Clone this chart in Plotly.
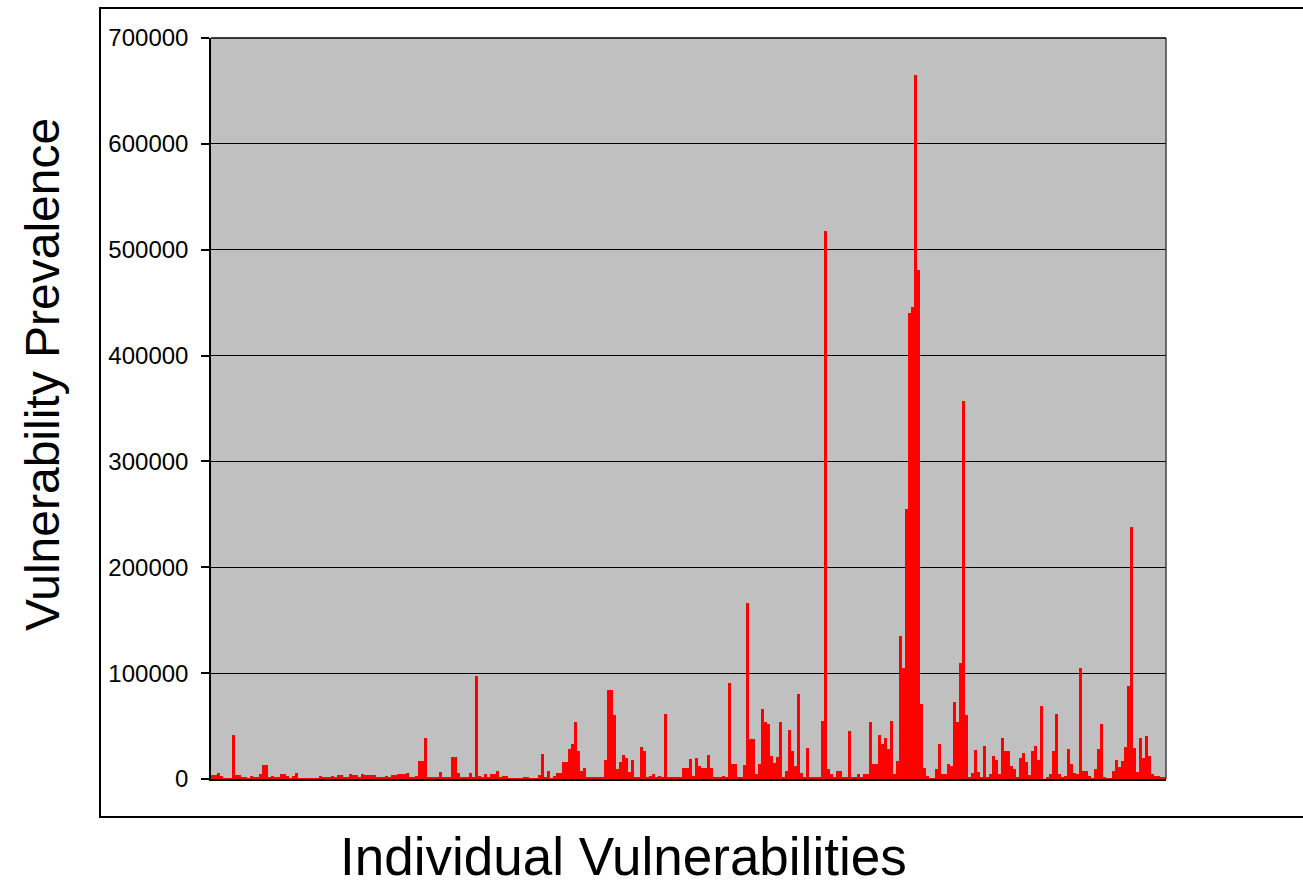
import plotly.graph_objects as go

# Prevalence values (in thousands) for each individual vulnerability, read left to right
prevalence_k = [
    3.5, 3.5, 6, 2.5, 0.5, 0.5, 0.5, 42, 3.8, 3.8,
    1.5, 1.5, 0.5, 2.5, 1, 1, 5, 13, 13, 1,
    2.5, 1, 1, 5, 5, 3, 0.5, 2.5, 6, 0.3,
    0.3, 0.3, 0.3, 0.3, 0.8, 0.8, 2.5, 1, 1, 1,
    2.5, 1, 3.8, 3.8, 1.5, 1.5, 5, 3.5, 3.5, 1,
    5, 3.8, 3.8, 3.8, 3.8, 1, 1, 1, 2.5, 1,
    3.8, 3.8, 5, 5, 5, 6, 1, 1, 2.5, 17,
    17, 39, 1, 1, 1, 1, 7, 1, 1, 1,
    21, 21, 6, 1, 1, 1, 6, 2, 97, 3,
    1, 5, 1, 5, 5, 8, 1, 2.5, 2.5, 0.5,
    0.5, 0.5, 0.5, 0.5, 1.5, 1.5, 0.3, 0.3, 0.3, 3.5,
    24, 2, 8, 0.5, 2.5, 6, 6, 16, 16, 28,
    33, 54, 26, 8, 10, 1.5, 1.5, 1.5, 1.5, 1.5,
    1.5, 18, 84, 84, 60, 9, 16, 23, 20, 7,
    18, 1, 1, 30, 26, 1, 2.5, 4.4, 1.5, 3,
    1.5, 61, 1, 1, 1, 2, 2, 10, 10, 19,
    3, 20, 12, 10, 10, 23, 10, 1, 1, 1,
    2.5, 1, 91, 14, 14, 1, 1, 13, 166, 38,
    38, 4.4, 14, 66, 54, 52, 22, 15, 21, 54,
    1, 8, 46, 26, 12, 80, 6, 1, 29, 1,
    1, 2, 1, 55, 518, 9, 5, 1.5, 8, 8,
    1, 1, 45, 1, 2, 4.4, 1, 4.4, 4.4, 54,
    14, 14, 42, 33, 39, 28, 55, 5, 17, 135,
    105, 255, 440, 446, 665, 481, 71, 10, 3, 0.5,
    0.5, 9, 33, 5, 5, 14, 12, 73, 54, 110,
    357, 60, 2, 6, 27, 7, 2, 31, 1, 5,
    22, 18, 5, 39, 26, 26, 12.5, 9.5, 2, 20,
    25, 16, 4, 26, 31, 18, 69, 0, 1.5, 5,
    26, 61, 5, 2, 3, 28, 14, 6, 5, 105,
    8, 8, 3, 0.5, 9, 28, 52, 1, 0.3, 0.3,
    8, 18, 11, 17, 30, 88, 238, 29, 7, 39,
    20, 41, 22, 5, 3, 3, 1, 1,
]
prevalence = [v * 1000 for v in prevalence_k]
vuln_index = list(range(len(prevalence)))

y_ticks = [0, 100000, 200000, 300000, 400000, 500000, 600000, 700000]
y_tick_labels = [str(t) for t in y_ticks]

FONT = "Liberation Sans, Arial, sans-serif"

fig = go.Figure(
    go.Bar(
        x=vuln_index,
        y=prevalence,
        marker=dict(color="#FF0000", line=dict(width=0)),
        hoverinfo="y",
    )
)

W, H = 1303, 883
ML, MR, MT, MB = 211, 137, 38, 104
pw = W - ML - MR
ph = H - MT - MB


def px_x(px):
    return (px - ML) / pw


def px_y(py):
    return (H - MB - py) / ph


fig.update_layout(
    width=W,
    height=H,
    margin=dict(l=ML, r=MR, t=MT, b=MB, pad=0),
    paper_bgcolor="white",
    plot_bgcolor="#C0C0C0",
    bargap=0,
    showlegend=False,
    font=dict(family=FONT, color="black"),
    xaxis=dict(
        range=[-0.5, len(prevalence) - 0.5],
        showticklabels=False,
        ticks="",
        showgrid=False,
        zeroline=False,
        showline=True,
        linecolor="black",
        linewidth=2,
        mirror=False,
    ),
    yaxis=dict(
        range=[0, 700000],
        tickvals=y_ticks,
        ticktext=y_tick_labels,
        ticks="outside",
        ticklen=8,
        tickwidth=1.5,
        tickcolor="black",
        tickfont=dict(size=24, family=FONT, color="black"),
        showgrid=True,
        gridcolor="black",
        gridwidth=1,
        zeroline=False,
        showline=True,
        linecolor="black",
        linewidth=1.5,
        ticklabelstandoff=8,
    ),
    shapes=[
        # outer chart frame (right edge runs off the canvas)
        dict(
            type="rect", xref="paper", yref="paper",
            x0=px_x(100), x1=px_x(1310), y0=px_y(817), y1=px_y(8),
            line=dict(color="black", width=2), fillcolor="rgba(0,0,0,0)",
            layer="below",
        ),
        # right border of plot area
        dict(
            type="line", xref="paper", yref="paper",
            x0=1, x1=1, y0=0, y1=1,
            line=dict(color="#404040", width=1.5),
        ),
        # top border of plot area
        dict(
            type="line", xref="paper", yref="paper",
            x0=0, x1=1, y0=1, y1=1,
            line=dict(color="black", width=1.5),
        ),
    ],
    annotations=[
        dict(
            text="Individual Vulnerabilities",
            xref="paper", yref="paper",
            x=px_x(623), y=px_y(857),
            xanchor="center", yanchor="middle",
            showarrow=False,
            font=dict(size=53, family=FONT, color="black"),
        ),
        dict(
            text="Vulnerability Prevalence",
            xref="paper", yref="paper",
            x=px_x(42), y=px_y(375),
            xanchor="center", yanchor="middle",
            textangle=-90,
            showarrow=False,
            font=dict(size=48, family=FONT, color="black"),
        ),
    ],
)

fig.write_html("out.html")
